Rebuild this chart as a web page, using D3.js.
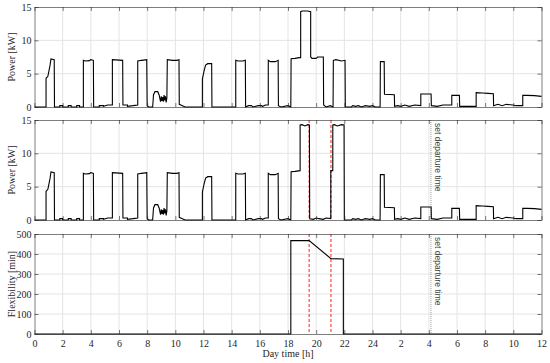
<!DOCTYPE html>
<html>
<head>
<meta charset="utf-8">
<script src="https://cdn.jsdelivr.net/npm/d3@7"></script>
<style>
	body { margin: 0; background: #fff; }
	.axis path, .axis line { stroke: #262626; stroke-width: 0.6; }
	.axis text { font-size: 10px; fill: #262626; }
	.grid line { stroke: #e4e4e4; stroke-width: 1; }
</style>
</head>
<body>
<svg id="chart" width="550" height="363"></svg>
<script>

// x axis: hours from midnight of day 1, labels wrap after 24
var hourTicks = d3.range(0, 37, 2);
var powerTicks = [0, 5, 10, 15];
var flexTicks = [0, 100, 200, 300, 400, 500];

// power profile [h, kW] shared by both power panels
var powerBefore = [
	[0,0],[0.82,0],[0.82,4.3],[0.95,4.6],[1.1,6.2],[1.17,7.2],[1.4,7.1],[1.42,0],
	[1.8,0],[1.8,0.2],[2.0,0.2],[2.0,0],[2.4,0],[2.4,0.2],[2.6,0.2],[2.6,0],[3.0,0],[3.0,0.2],[3.2,0.2],[3.2,0],[3.47,0],
	[3.47,7.0],[3.6,6.9],[3.9,6.95],[4.0,7.1],[4.18,7.0],[4.2,0],
	[4.6,0],[4.6,0.2],[4.9,0.2],[4.9,0.1],[5.2,0.3],[5.53,0.3],[5.53,7.1],[6.26,7.0],[6.28,0.3],
	[6.6,0.3],[6.6,0.1],[7.0,0.2],[7.33,0.3],[7.33,6.9],[7.6,7.0],[7.97,7.1],[8.0,0.2],[8.1,0],[8.39,0],
	[8.45,1.8],[8.55,2.3],[8.75,2.3],[8.85,1.8],[8.9,1.3],[8.95,0.8],[9.0,1.6],[9.05,0.9],[9.1,1.5],
	[9.15,0.8],[9.2,1.8],[9.25,1.0],[9.3,1.6],[9.35,0.7],[9.4,1.4],[9.43,7.1],[9.8,7.0],[10.1,7.0],[10.26,7.1],
	[10.28,0.4],[10.5,0.2],[10.7,0],
	[11.92,0],[11.92,4.2],[12.05,5.5],[12.15,6.3],[12.3,6.5],[12.58,6.5],[12.6,0],
	[14.29,0],[14.29,7.0],[14.45,6.9],[14.8,6.9],[14.97,7.0],[14.99,0],[15.2,0.2],[15.4,0.2],[15.5,0],
	[15.9,0.2],[16.1,0.2],[16.2,0.1],[16.4,0.3],[16.6,0.3],[16.6,7.0],[16.75,6.8],[17.1,6.8],[17.3,7.0],
	[17.32,0.2],[17.5,0],[18.0,0.2],[18.2,0]
];
var powerAfter = [
	[22.07,0],[22.5,0],[22.6,0.2],[22.8,0.1],[23,0.2],[23.2,0],[23.5,0.2],[23.8,0.1],[24,0.2],[24.2,0],[24.54,0],
	[24.56,6.8],[24.83,6.8],[24.85,1.9],[25.55,1.85],[25.57,0.1],[25.8,0.2],[26,0.1],[26.3,0.3],[26.6,0.1],
	[27,0.3],[27.43,0.2],[27.43,1.95],[28.16,1.95],[28.18,0.2],[28.6,0.1],[29,0.3],[29.63,0.3],[29.63,1.75],
	[30.17,1.75],[30.19,0.1],[31.36,0.1],[31.36,2.15],[31.8,2.1],[32.2,2.05],[32.58,2.0],[32.6,0.2],
	[32.9,0.4],[33.2,0.2],[33.5,0.4],[33.96,0.3],[34.2,0.2],[34.67,0.2],[34.67,1.75],[35,1.75],[35.5,1.7],[36,1.6]
];
// evening: uncontrolled (top) vs shifted (middle)
var powerEveningUnc = [
	[18.22,7.25],[18.5,7.3],[18.8,7.4],[18.9,7.4],[18.9,14.3],[19.0,14.4],[19.4,14.4],[19.61,14.3],
	[19.61,7.5],[19.7,7.3],[20.0,7.3],[20.1,7.5],[20.51,7.5],[20.53,0.3],[20.7,0],[21.0,0.2],[21.2,0],
	[21.22,7.0],[21.4,7.1],[21.8,6.9],[22.05,7.0]
];
var powerEveningCtrl = [
	[18.22,7.25],[18.5,7.3],[18.86,7.4],[18.86,14.25],[19.0,14.3],[19.2,14.1],[19.4,14.3],[19.52,14.25],
	[19.54,0.2],[19.8,0.1],[20.0,0.3],[20.2,0.2],[20.5,0.1],[20.7,0.3],[21.04,0.2],[21.04,7.4],[21.18,7.4],
	[21.18,14.25],[21.3,14.3],[21.5,14.1],[21.8,14.3],[21.98,14.25],[22.0,0]
];
// flexibility [h, min]
var flexibility = [[0,0],[18.2,0],[18.2,467],[19.5,467],[21.05,377],[21.93,375],[21.93,0],[36,0]];

var eventLines = [19.5, 21.05];
var departureTime = 28.15;

var serif = "'Liberation Serif', 'Times New Roman', serif";
var sans = "'Liberation Sans', Arial, 'DejaVu Sans', sans-serif";

var svg = d3.select("#chart");
var x = d3.scaleLinear().domain([0, 36]).range([34.5, 541.5]);

var panels = [
	{top: 7, bottom: 107, max: 15, ticks: powerTicks, label: "Power [kW]", data: powerBefore.concat(powerEveningUnc, powerAfter), marks: false},
	{top: 120, bottom: 220, max: 15, ticks: powerTicks, label: "Power [kW]", data: powerBefore.concat(powerEveningCtrl, powerAfter), marks: true},
	{top: 234, bottom: 334, max: 500, ticks: flexTicks, label: "Flexibility [min]", data: flexibility, marks: true}
];

panels.forEach(function(p, i) {
	var y = d3.scaleLinear().domain([0, p.max]).range([p.bottom, p.top]);
	var g = svg.append("g");

	var grid = g.append("g").attr("class", "grid");
	grid.selectAll(".gx").data(hourTicks.slice(1, -1)).enter().append("line")
		.attr("x1", x).attr("x2", x).attr("y1", p.top).attr("y2", p.bottom);
	grid.selectAll(".gy").data(p.ticks.slice(1, -1)).enter().append("line")
		.attr("x1", x(0)).attr("x2", x(36))
		.attr("y1", function(d) { return y(d); }).attr("y2", function(d) { return y(d); });

	if (p.marks) {
		g.selectAll(".ev").data(eventLines).enter().append("line")
			.attr("x1", x).attr("x2", x).attr("y1", p.top).attr("y2", p.bottom)
			.attr("stroke", "#ff2020").attr("stroke-width", 1).attr("stroke-dasharray", "3,2");
		g.append("line")
			.attr("x1", x(departureTime)).attr("x2", x(departureTime))
			.attr("y1", p.top).attr("y2", p.bottom)
			.attr("stroke", "#999").attr("stroke-width", 1).attr("stroke-dasharray", "1,1");
		var tx = x(departureTime) + 7, ty = p.top + 3;
		g.append("text")
			.attr("transform", "translate(" + tx + "," + ty + ") rotate(90)")
			.attr("dy", "0.35em")
			.style("font-family", sans)
			.style("font-size", "8.5px")
			.style("fill", "#444")
			.text("set departure time");
	}

	g.append("path")
		.datum(p.data)
		.attr("fill", "none").attr("stroke", "#000").attr("stroke-width", 1.1)
		.attr("d", d3.line().x(function(d) { return x(d[0]); }).y(function(d) { return y(d[1]); }));

	var ax = g.append("g").attr("class", "axis")
		.attr("transform", "translate(0," + p.bottom + ")")
		.call(d3.axisBottom(x).tickValues(hourTicks).tickSizeInner(-4).tickSizeOuter(0).tickPadding(6)
			.tickFormat(function(d) { return d > 24 ? d - 24 : d; }));
	ax.attr("font-family", serif);
	ax.selectAll("text").style("display", i === 2 ? null : "none");
	g.append("g").attr("class", "axis")
		.attr("transform", "translate(0," + p.top + ")")
		.call(d3.axisTop(x).tickValues(hourTicks).tickSizeInner(-4).tickSizeOuter(0).tickFormat(""));
	g.append("g").attr("class", "axis")
		.attr("transform", "translate(" + x(0) + ",0)")
		.call(d3.axisLeft(y).tickValues(p.ticks).tickSizeInner(-4).tickSizeOuter(0).tickPadding(3))
		.attr("font-family", serif);
	g.append("g").attr("class", "axis")
		.attr("transform", "translate(" + x(36) + ",0)")
		.call(d3.axisRight(y).tickValues(p.ticks).tickSizeInner(-4).tickSizeOuter(0).tickFormat(""));

	svg.append("text")
		.attr("transform", "translate(15," + ((p.top + p.bottom) / 2) + ") rotate(-90)")
		.attr("text-anchor", "middle")
		.attr("font-family", serif)
		.attr("font-size", "10px").attr("fill", "#262626")
		.text(p.label);
});

svg.append("text")
	.attr("x", (x(0) + x(36)) / 2).attr("y", 357)
	.attr("text-anchor", "middle")
	.attr("font-family", serif)
	.attr("font-size", "10px").attr("fill", "#262626")
	.text("Day time [h]");

</script>
</body>
</html>
